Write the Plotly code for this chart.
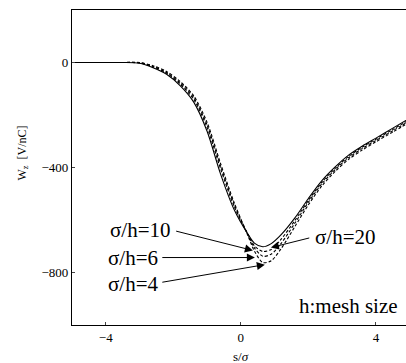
import plotly.graph_objects as go

s = [-5.0, -4.0, -3.5, -3.0, -2.6, -2.2, -1.8, -1.4, -1.0, -0.6, -0.2, 0.2, 0.4, 0.65, 0.9, 1.2, 1.6, 2.0, 2.4, 2.8, 3.2, 3.6, 4.0, 4.5, 5.0]
w20 = [0, 0, 0, -3, -20, -45, -88, -150, -262, -425, -560, -652, -688, -702, -690, -655, -592, -518, -450, -397, -352, -318, -288, -250, -212]
w10 = [0, 0, 0, -2, -17, -41, -82, -140, -248, -405, -548, -652, -698, -720, -712, -672, -602, -525, -456, -402, -357, -322, -292, -255, -217]
w6 = [0, 0, 0, -1, -15, -38, -77, -133, -238, -395, -540, -654, -706, -738, -730, -688, -612, -532, -462, -407, -362, -327, -297, -260, -222]
w4 = [0, 0, 0, 0, -12, -34, -72, -126, -228, -385, -533, -657, -718, -762, -755, -708, -625, -542, -470, -414, -368, -333, -302, -265, -227]

x_ticks = [-4, 0, 4]
y_ticks = [0, -400, -800]

FONT = "Liberation Serif, Times New Roman, serif"

fig = go.Figure()
for w, dash in [(w4, "3px,2px"), (w6, "3px,2px"), (w10, "3px,2px"), (w20, "solid")]:
    fig.add_trace(go.Scatter(x=s, y=w, mode="lines", line=dict(color="black", width=1.1, dash=dash, shape="spline", smoothing=0.8), showlegend=False))

labels = [
    ("σ/h=10", -2.01, -637, "right"),
    ("σ/h=6", -2.4, -743, "right"),
    ("σ/h=4", -2.4, -845, "right"),
    ("σ/h=20", 2.13, -663, "left"),
    ("h:mesh size", 4.71, -929, "right"),
]
for t, x, y, xa in labels:
    fig.add_annotation(x=x, y=y, text=t, showarrow=False, xanchor=xa, yanchor="middle",
                       font=dict(family=FONT, size=21, color="black"))

arrows = [
    (0.356, -716, -1.96, -641),
    (0.415, -743, -2.37, -743),
    (0.71, -770, -2.37, -838),
    (0.89, -705, 2.07, -667),
]
for hx, hy, tx, ty in arrows:
    fig.add_annotation(x=hx, y=hy, ax=tx, ay=ty, axref="x", ayref="y", xref="x", yref="y",
                       text="", showarrow=True, arrowhead=2, arrowsize=1.6, arrowwidth=1, arrowcolor="black")

# axis titles
fig.add_annotation(x=0, y=0, xref="x", yref="paper", yshift=-31, text="s/<i>σ</i>", showarrow=False,
                   xanchor="center", yanchor="middle", font=dict(family=FONT, size=13, color="black"))
fig.add_annotation(x=0, y=0.5, xref="paper", yref="paper", xshift=-50, yshift=14, text="W<sub>z</sub>  [V/nC]",
                   showarrow=False, textangle=-90, xanchor="center", yanchor="middle",
                   font=dict(family=FONT, size=12, color="black"))

fig.update_layout(
    width=406, height=363,
    margin=dict(l=72, r=0, t=10, b=38),
    paper_bgcolor="white", plot_bgcolor="white",
    font=dict(family=FONT, size=13, color="black"),
    xaxis=dict(range=[-5, 4.89], tickvals=x_ticks, ticks="inside", ticklen=3, showgrid=False, zeroline=False,
               showline=True, linecolor="black", linewidth=1.3, mirror=True, automargin=False),
    yaxis=dict(range=[-1000, 200], tickvals=y_ticks, ticks="inside", ticklen=3, showgrid=False, zeroline=False,
               showline=True, linecolor="black", linewidth=1.3, mirror=False, automargin=False),
)

fig.write_html("out.html", config={"displayModeBar": False},
               post_script="document.body.style.margin='0';document.body.style.overflow='hidden';")
